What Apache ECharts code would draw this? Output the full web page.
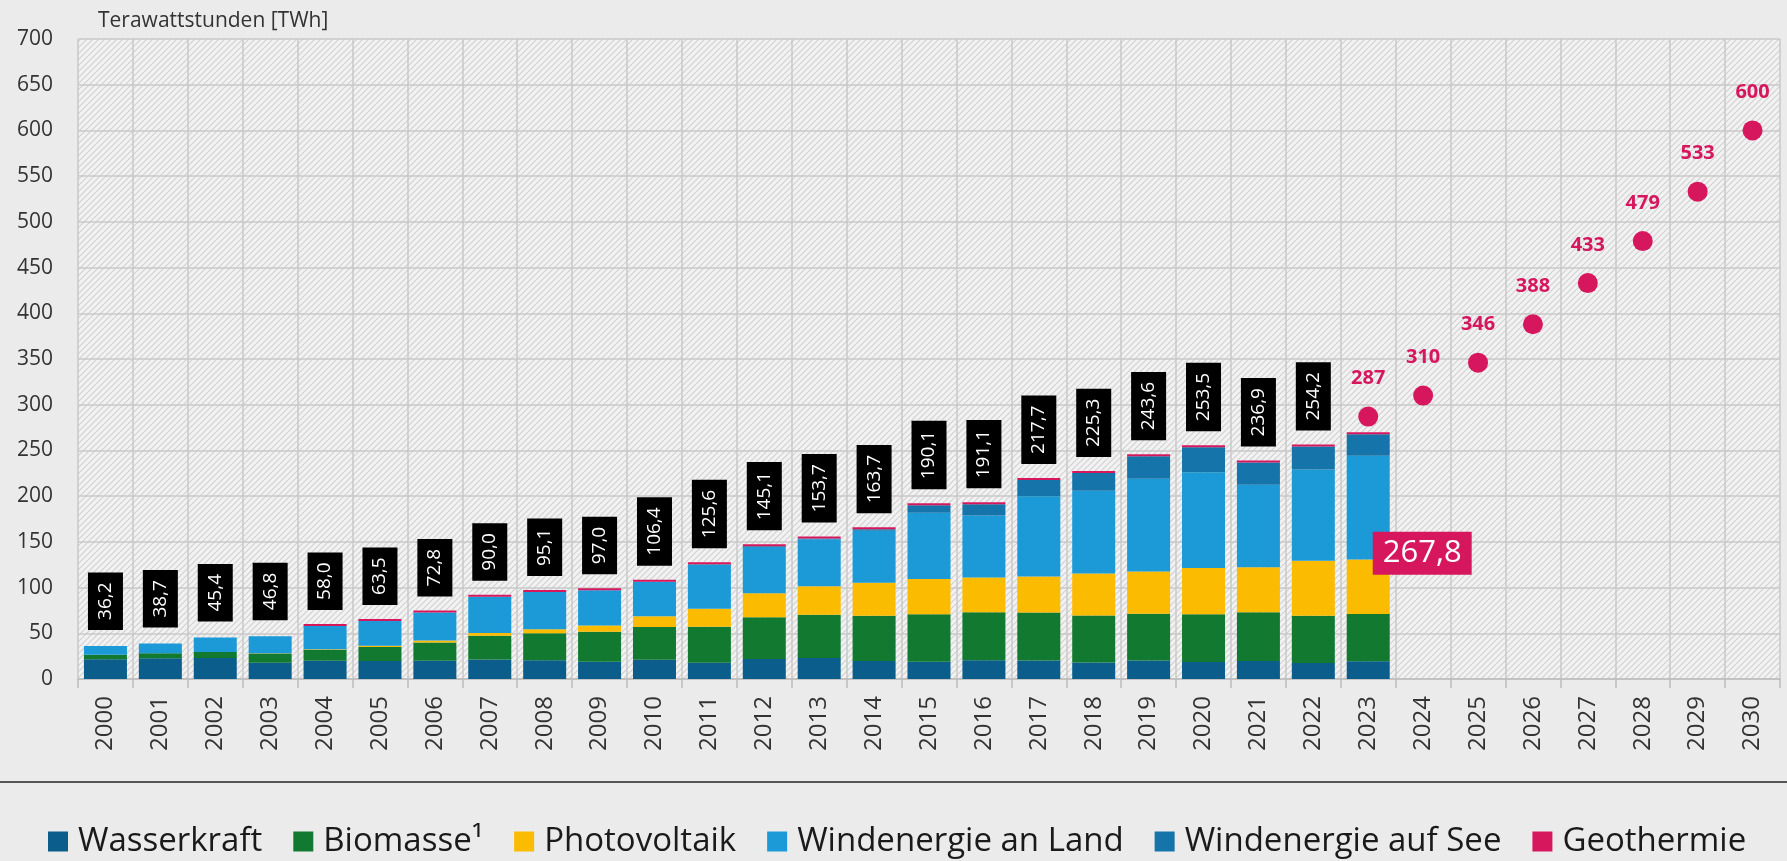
<!DOCTYPE html>
<html>
<head>
<meta charset="utf-8">
<script src="https://cdn.jsdelivr.net/npm/echarts@6/dist/echarts.min.js"></script>
<style>
  html, body { margin: 0; padding: 0; background: #ebebeb; }
  #chart { width: 1787px; height: 861px; }
</style>
</head>
<body>
<div id="chart"></div>
<script>
// ---- Data ----
const years = ['2000','2001','2002','2003','2004','2005','2006','2007','2008','2009','2010',
  '2011','2012','2013','2014','2015','2016','2017','2018','2019','2020','2021','2022','2023',
  '2024','2025','2026','2027','2028','2029','2030'];
const wasserkraft = [21.7,22.7,23.1,17.7,19.9,19.6,20.0,21.2,20.4,19.0,21.0,17.7,21.8,23.0,19.6,19.0,20.5,20.2,18.0,20.1,18.7,19.7,17.6,19.5];
const biomasse = [4.9,5.4,6.3,10.1,12.0,15.4,19.9,26.0,29.7,32.8,35.9,39.4,45.7,47.4,49.5,51.8,52.5,52.4,51.5,51.2,52.1,53.2,51.5,51.5];
const photovoltaik = [0.06,0.1,0.2,0.3,0.6,1.3,2.2,3.1,4.4,6.6,11.7,19.6,26.4,31.0,36.1,38.7,38.1,39.4,45.8,46.4,50.6,49.3,60.3,59.8];
const windLand = [9.5,10.5,15.8,18.7,25.5,27.2,30.7,39.7,40.6,38.6,37.6,48.3,50.5,51.4,57.0,72.3,67.7,88.0,90.5,101.2,104.8,90.3,99.7,113.3];
const windSee = [0,0,0,0,0,0,0,0,0,0.04,0.2,0.6,0.7,0.9,1.5,8.3,12.3,17.7,19.5,24.7,27.3,24.4,25.1,23.5];
const geothermie = [null,null,null,null,0.0002,0.0002,0.0004,0.0004,0.02,0.02,0.03,0.02,0.03,0.08,0.1,0.13,0.18,0.16,0.18,0.2,0.23,0.25,0.2,0.2];
const totals = [36.2,38.7,45.4,46.8,58.0,63.5,72.8,90.0,95.1,97.0,106.4,125.6,145.1,153.7,163.7,190.1,191.1,217.7,225.3,243.6,253.5,236.9,254.2,267.8];
const targetYears = ['2023','2024','2025','2026','2027','2028','2029','2030'];
const targets = [287,310,346,388,433,479,533,600];
const seriesNames = ['Wasserkraft','Biomasse¹','Photovoltaik','Windenergie an Land','Windenergie auf See','Geothermie'];
const yTitle = 'Terawattstunden [TWh]';

// ---- Styles ----
const colors = {
  'Wasserkraft': '#0b5d8b',
  'Biomasse¹': '#127a30',
  'Photovoltaik': '#fbbb00',
  'Windenergie an Land': '#1b9ad7',
  'Windenergie auf See': '#1574a9',
  'Geothermie': '#d6175e'
};
const FONT = 'Open Sans';

// hatched pattern for plot background
const pc = document.createElement('canvas');
pc.width = 6; pc.height = 6;
const pctx = pc.getContext('2d');
pctx.fillStyle = '#f2f2f2';
pctx.fillRect(0, 0, 6, 6);
pctx.strokeStyle = '#d0d0d0';
pctx.lineWidth = 1.1;
pctx.beginPath();
pctx.moveTo(0, 6); pctx.lineTo(6, 0);
pctx.moveTo(-3, 3); pctx.lineTo(3, -3);
pctx.moveTo(3, 9); pctx.lineTo(9, 3);
pctx.stroke();

const fmt = v => v.toFixed(1).replace('.', ',');

const compData = [wasserkraft, biomasse, photovoltaik, windLand, windSee, geothermie];
const barSeries = seriesNames.map((name, k) => ({
  name: name,
  type: 'bar',
  stack: 'ee',
  barWidth: 43,
  barMinHeight: name === 'Geothermie' ? 2 : 0,
  itemStyle: { color: colors[name] },
  data: compData[k],
  z: 3
}));

const totalData = totals.map((v, i) => {
  if (years[i] === '2023') {
    return {
      value: [years[i], v],
      label: {
        rotate: 0, position: 'top', distance: 0, align: 'center', verticalAlign: 'middle',
        offset: [54, 119], backgroundColor: '#d6175e', color: '#fff',
        fontSize: 31, padding: [7, 10, 5, 10]
      }
    };
  }
  return { value: [years[i], v] };
});

const option = {
  animation: false,
  backgroundColor: '#ebebeb',
  textStyle: { fontFamily: FONT },
  title: {
    text: yTitle, left: 93, top: 6,
    textStyle: { fontSize: 21, fontWeight: 'normal', color: '#333', fontFamily: FONT }
  },
  grid: {
    left: 78, right: 7, top: 39, bottom: 182,
    show: true, borderWidth: 0,
    backgroundColor: { image: pc, repeat: 'repeat' }
  },
  legend: {
    data: seriesNames, left: 43, top: 820, icon: 'rect',
    itemWidth: 20, itemHeight: 20, itemGap: 31,
    textStyle: { fontSize: 33, color: '#1a1a1a', fontFamily: FONT, padding: [0, 0, 0, 5] }
  },
  xAxis: {
    type: 'category', data: years,
    axisLine: { lineStyle: { color: '#bdbdbd', width: 1.5 } },
    axisTick: { show: true, length: 9, lineStyle: { color: '#bdbdbd', width: 1.5 } },
    axisLabel: { rotate: 90, fontSize: 24, color: '#333', margin: 17, fontFamily: FONT },
    splitLine: { show: true, lineStyle: { color: '#c9c9c9', width: 1.5 } }
  },
  yAxis: {
    type: 'value', min: 0, max: 700, interval: 50,
    axisLine: { show: false }, axisTick: { show: false },
    axisLabel: { fontSize: 21, color: '#333', margin: 25, fontFamily: FONT },
    splitLine: { lineStyle: { color: '#c9c9c9', width: 1.5 } }
  },
  graphic: [{
    type: 'line', silent: true,
    shape: { x1: 0, y1: 782, x2: 1787, y2: 782 },
    style: { stroke: '#555', lineWidth: 2 }
  }],
  series: barSeries.concat([
    {
      name: 'Summe', type: 'scatter', symbolSize: 0, silent: true, z: 5,
      itemStyle: { opacity: 1 },
      data: totalData,
      label: {
        show: true, position: 'top', distance: 16, rotate: 90,
        align: 'left', verticalAlign: 'middle',
        formatter: p => fmt(p.value[1]),
        color: '#fff', backgroundColor: '#000', fontSize: 19,
        padding: [8, 10, 8, 10], fontFamily: FONT
      }
    },
    {
      name: 'Ziel', type: 'scatter', symbol: 'circle', symbolSize: 20, silent: true, z: 6,
      itemStyle: { color: '#d6175e', opacity: 1 },
      data: targetYears.map((y, i) => [y, targets[i]]),
      label: {
        show: true, position: 'top', distance: 18,
        formatter: p => String(p.value[1]),
        color: '#d6175e', fontSize: 20, fontWeight: 'bold', fontFamily: FONT
      }
    }
  ])
};

const chart = echarts.init(document.getElementById('chart'), null, { renderer: 'canvas' });
chart.setOption(option);
</script>
</body>
</html>
